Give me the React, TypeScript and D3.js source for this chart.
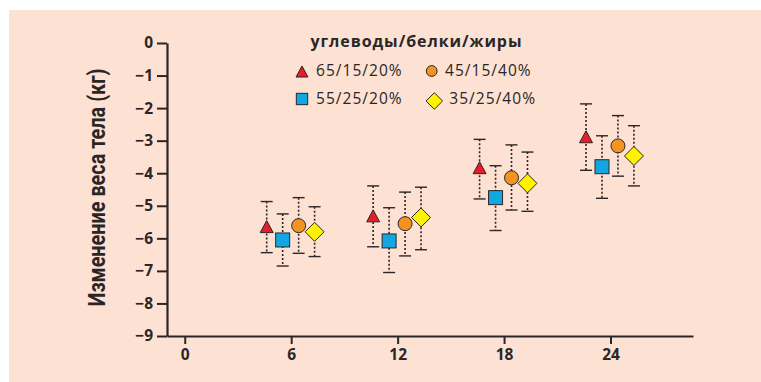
import React, { useEffect, useRef } from "react";
import * as d3 from "d3";

const times = [6, 12, 18, 24];
const seriesNames = ["65/15/20%", "55/25/20%", "45/15/40%", "35/25/40%"];
const seriesShapes = ["triangle", "square", "circle", "diamond"];
const seriesColors = ["#e61e2a", "#12a7e0", "#f39322", "#fff200"];
const seriesDodge = [-1.38, -0.48, 0.42, 1.32];

const meanS1 = [-5.64, -5.31, -3.83, -2.88];
const meanS2 = [-6.05, -6.08, -4.75, -3.8];
const meanS3 = [-5.61, -5.55, -4.14, -3.16];
const meanS4 = [-5.8, -5.36, -4.31, -3.47];

const upperS1 = [-4.87, -4.39, -2.96, -1.87];
const upperS2 = [-5.25, -5.06, -3.77, -2.85];
const upperS3 = [-4.75, -4.58, -3.13, -2.23];
const upperS4 = [-5.03, -4.43, -3.35, -2.54];

const lowerS1 = [-6.44, -6.26, -4.79, -3.91];
const lowerS2 = [-6.85, -7.05, -5.76, -4.77];
const lowerS3 = [-6.46, -6.54, -5.13, -4.09];
const lowerS4 = [-6.56, -6.35, -5.17, -4.39];

const yTicks = [0, -1, -2, -3, -4, -5, -6, -7, -8, -9];
const xTicks = [0, 6, 12, 18, 24];
const legendTitle = "углеводы/белки/жиры";
const yTitle = "Изменение веса тела (кг)";

const means = [meanS1, meanS2, meanS3, meanS4];
const uppers = [upperS1, upperS2, upperS3, upperS4];
const lowers = [lowerS1, lowerS2, lowerS3, lowerS4];

const FONT = "'Open Sans', 'Noto Sans', sans-serif";
const INK = "#2a2627";

function drawShape(g: any, shape: string, cx: number, cy: number, color: string, scale = 1) {
  if (shape === "triangle") {
    const w = 13 * scale, h = 12 * scale;
    g.append("path")
      .attr("d", `M${cx},${cy - h / 2}L${cx + w / 2},${cy + h / 2}L${cx - w / 2},${cy + h / 2}Z`)
      .attr("fill", color).attr("stroke", INK).attr("stroke-width", 1);
  } else if (shape === "square") {
    const s = 14 * scale;
    g.append("rect").attr("x", cx - s / 2).attr("y", cy - s / 2).attr("width", s).attr("height", s)
      .attr("fill", color).attr("stroke", INK).attr("stroke-width", 1);
  } else if (shape === "circle") {
    g.append("circle").attr("cx", cx).attr("cy", cy).attr("r", 7 * scale)
      .attr("fill", color).attr("stroke", INK).attr("stroke-width", 1);
  } else {
    const r = 9.5 * scale;
    g.append("path")
      .attr("d", `M${cx},${cy - r}L${cx + r},${cy}L${cx},${cy + r}L${cx - r},${cy}Z`)
      .attr("fill", color).attr("stroke", INK).attr("stroke-width", 1);
  }
}

export default function App() {
  const ref = useRef<SVGSVGElement | null>(null);

  useEffect(() => {
    const svg = d3.select(ref.current);
    svg.selectAll("*").remove();

    svg.append("rect").attr("x", 9).attr("y", 10).attr("width", 752).attr("height", 372).attr("fill", "#fde2d3");

    const x = d3.scaleLinear().domain([-1, 28.65]).range([167, 693]);
    const y = d3.scaleLinear().domain([0, -9]).range([43, 336]);

    // Y axis
    const yAxis = d3.axisLeft(y).tickValues(yTicks).tickSize(10).tickSizeOuter(0).tickPadding(4)
      .tickFormat((d: any) => (d === 0 ? "0" : "\u2212" + Math.abs(d)));
    const gy = svg.append("g").attr("transform", `translate(${x(-1)},0)`).call(yAxis);
    gy.select(".domain").attr("stroke", INK).attr("stroke-width", 2.2);
    gy.selectAll(".tick line").attr("stroke", INK).attr("stroke-width", 2);
    gy.selectAll(".tick text").attr("fill", INK).attr("font-family", FONT).attr("font-weight", 700).attr("font-size", 15.5);

    // X axis
    const xAxis = d3.axisBottom(x).tickValues(xTicks).tickSize(8).tickSizeOuter(0).tickPadding(5)
      .tickFormat((d: any) => String(d));
    const gx = svg.append("g").attr("transform", `translate(0,${y(-9)})`).call(xAxis);
    gx.select(".domain").attr("stroke", INK).attr("stroke-width", 2.2);
    gx.selectAll(".tick line").attr("stroke", INK).attr("stroke-width", 2);
    gx.selectAll(".tick text").attr("fill", INK).attr("font-family", FONT).attr("font-weight", 700).attr("font-size", 15.5);

    // Y title
    svg.append("text")
      .attr("transform", `translate(105,187.5) rotate(-90)`)
      .attr("text-anchor", "middle").attr("font-family", "Roboto, 'Open Sans', sans-serif").attr("font-weight", 700).attr("font-size", 23.5)
      .attr("textLength", 238).attr("lengthAdjust", "spacingAndGlyphs")
      .attr("fill", INK).text(yTitle);

    // Error bars + markers
    const gData = svg.append("g");
    means.forEach((m, si) => {
      times.forEach((t, ti) => {
        const cx = x(t + seriesDodge[si]);
        const yt = y(uppers[si][ti]);
        const yb = y(lowers[si][ti]);
        gData.append("line").attr("x1", cx).attr("x2", cx).attr("y1", yt).attr("y2", yb)
          .attr("stroke", INK).attr("stroke-width", 1.6).attr("stroke-dasharray", "2,2");
        [yt, yb].forEach((yy) => {
          gData.append("line").attr("x1", cx - 6).attr("x2", cx + 6).attr("y1", yy).attr("y2", yy)
            .attr("stroke", INK).attr("stroke-width", 1.4);
        });
      });
    });
    means.forEach((m, si) => {
      times.forEach((t, ti) => {
        drawShape(gData, seriesShapes[si], x(t + seriesDodge[si]), y(m[ti]), seriesColors[si]);
      });
    });

    // Legend
    const gl = svg.append("g");
    gl.append("text").attr("x", 310.5).attr("y", 47).attr("font-family", FONT).attr("font-weight", 700)
      .attr("font-size", 16).attr("textLength", 211).attr("lengthAdjust", "spacing")
      .attr("fill", INK).text(legendTitle);
    const legendPos = [
      [302, 71.5, 316],
      [302, 99, 316],
      [431.7, 71, 445],
      [434.3, 101, 449.3],
    ];
    const legendBase = [76, 104, 76, 104];
    const legendScale = [0.92, 0.81, 0.77, 0.87];
    seriesNames.forEach((name, si) => {
      const [sx, sy, tx] = legendPos[si];
      drawShape(gl, seriesShapes[si], sx, sy, seriesColors[si], legendScale[si]);
      gl.append("text").attr("x", tx).attr("y", legendBase[si]).attr("font-family", FONT).attr("font-size", 15.5)
        .attr("textLength", 85.7).attr("lengthAdjust", "spacing")
        .attr("fill", INK).text(name);
    });
  }, []);

  return (
    <svg ref={ref} width={761} height={382} style={{ position: "absolute", left: 0, top: 0, display: "block" }} />
  );
}
